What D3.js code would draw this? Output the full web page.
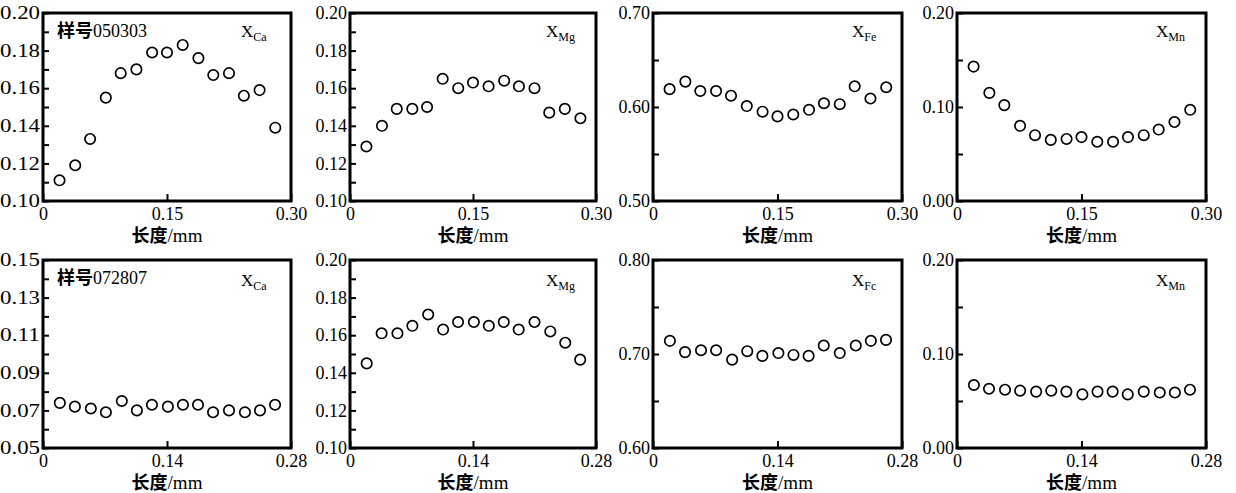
<!DOCTYPE html>
<html>
<meta charset="utf-8">
<head>
<style>
  body { margin: 0; background: #fff; }
  text { font-family: "Liberation Serif", "Times New Roman", serif; fill: #000; }
  .cjk { font-family: "Noto Sans CJK SC", sans-serif; font-weight: 700; }
</style>
</head>
<body>
<div id="chart"></div>
<script src="https://d3js.org/d3.v7.min.js"></script>
<script>
// positions along the profile (mm)
var xTop = [0.020, 0.039, 0.057, 0.076, 0.094, 0.113, 0.132, 0.150, 0.169, 0.188, 0.206, 0.225, 0.243, 0.262, 0.281];
var xBottom = [0.019, 0.036, 0.054, 0.071, 0.089, 0.106, 0.123, 0.141, 0.158, 0.175, 0.192, 0.210, 0.228, 0.245, 0.262];

// sample 050303
var caTop = [0.111, 0.119, 0.133, 0.155, 0.168, 0.170, 0.179, 0.179, 0.183, 0.176, 0.167, 0.168, 0.156, 0.159, 0.139];
var mgTop = [0.129, 0.140, 0.149, 0.149, 0.150, 0.165, 0.160, 0.163, 0.161, 0.164, 0.161, 0.160, 0.147, 0.149, 0.144];
var feTop = [0.619, 0.627, 0.617, 0.617, 0.612, 0.601, 0.595, 0.590, 0.592, 0.597, 0.604, 0.603, 0.622, 0.609, 0.621];
var mnTop = [0.143, 0.115, 0.102, 0.080, 0.070, 0.065, 0.066, 0.068, 0.063, 0.063, 0.068, 0.070, 0.076, 0.084, 0.097];

// sample 072807
var caBottom = [0.074, 0.072, 0.071, 0.069, 0.075, 0.070, 0.073, 0.072, 0.073, 0.073, 0.069, 0.070, 0.069, 0.070, 0.073];
var mgBottom = [0.145, 0.161, 0.161, 0.165, 0.171, 0.163, 0.167, 0.167, 0.165, 0.167, 0.163, 0.167, 0.162, 0.156, 0.147];
var feBottom = [0.714, 0.702, 0.704, 0.704, 0.694, 0.703, 0.698, 0.701, 0.699, 0.698, 0.709, 0.701, 0.709, 0.714, 0.715];
var mnBottom = [0.067, 0.063, 0.062, 0.061, 0.060, 0.061, 0.060, 0.057, 0.060, 0.060, 0.057, 0.060, 0.059, 0.059, 0.062];

// axis ticks and labels
var xLabelsTop = [0, 0.15, 0.30];
var xLabelsBottom = [0, 0.14, 0.28];
var ticksCa1 = [0.10, 0.11, 0.12, 0.13, 0.14, 0.15, 0.16, 0.17, 0.18, 0.19, 0.20];
var labelsCa1 = [0.10, 0.12, 0.14, 0.16, 0.18, 0.20];
var ticksMg = [0.10, 0.11, 0.12, 0.13, 0.14, 0.15, 0.16, 0.17, 0.18, 0.19, 0.20];
var labelsMg = [0.10, 0.12, 0.14, 0.16, 0.18, 0.20];
var ticksFe1 = [0.50, 0.55, 0.60, 0.65, 0.70];
var labelsFe1 = [0.50, 0.60, 0.70];
var ticksMn = [0.00, 0.05, 0.10, 0.15, 0.20];
var labelsMn = [0.00, 0.10, 0.20];
var ticksCa2 = [0.05, 0.06, 0.07, 0.08, 0.09, 0.10, 0.11, 0.12, 0.13, 0.14, 0.15];
var labelsCa2 = [0.05, 0.07, 0.09, 0.11, 0.13, 0.15];
var ticksFe2 = [0.60, 0.65, 0.70, 0.75, 0.80];
var labelsFe2 = [0.60, 0.70, 0.80];

var samples = ["样号050303", "样号072807"];

var panels = [
  {row: 0, col: 0, xs: xTop, ys: caTop, xl: xLabelsTop, yt: ticksCa1, yl: labelsCa1, sub: "Ca", sample: samples[0]},
  {row: 0, col: 1, xs: xTop, ys: mgTop, xl: xLabelsTop, yt: ticksMg, yl: labelsMg, sub: "Mg"},
  {row: 0, col: 2, xs: xTop, ys: feTop, xl: xLabelsTop, yt: ticksFe1, yl: labelsFe1, sub: "Fe"},
  {row: 0, col: 3, xs: xTop, ys: mnTop, xl: xLabelsTop, yt: ticksMn, yl: labelsMn, sub: "Mn"},
  {row: 1, col: 0, xs: xBottom, ys: caBottom, xl: xLabelsBottom, yt: ticksCa2, yl: labelsCa2, sub: "Ca", sample: samples[1]},
  {row: 1, col: 1, xs: xBottom, ys: mgBottom, xl: xLabelsBottom, yt: ticksMg, yl: labelsMg, sub: "Mg"},
  {row: 1, col: 2, xs: xBottom, ys: feBottom, xl: xLabelsBottom, yt: ticksFe2, yl: labelsFe2, sub: "Fc"},
  {row: 1, col: 3, xs: xBottom, ys: mnBottom, xl: xLabelsBottom, yt: ticksMn, yl: labelsMn, sub: "Mn"}
];

// layout
var colLeft = [43, 350, 653, 957];
var colWidth = [248, 246, 249, 249];
var rowTop = [13, 260];
var plotH = 188;

var svg = d3.select("#chart").append("svg")
  .attr("width", 1236)
  .attr("height", 493)
  .style("background", "#fff");

panels.forEach(function (p) {
  var w = colWidth[p.col];
  var g = svg.append("g")
    .attr("transform", "translate(" + colLeft[p.col] + "," + rowTop[p.row] + ")");

  var x = d3.scaleLinear().domain([0, p.xl[p.xl.length - 1]]).range([0, w]);
  var y = d3.scaleLinear().domain([p.yt[0], p.yt[p.yt.length - 1]]).range([plotH, 0]);

  // y axis, ticks pointing inward
  var yAxis = g.append("g").call(
    d3.axisLeft(y)
      .tickValues(p.yt)
      .tickSize(-6)
      .tickPadding(3)
      .tickFormat(function (d) {
        return p.yl.some(function (v) { return Math.abs(v - d) < 1e-9; }) ? d3.format(".2f")(d) : "";
      })
  );
  yAxis.select(".domain").remove();
  yAxis.selectAll("line").attr("stroke", "#000").attr("stroke-width", 2);
  yAxis.selectAll("text").attr("font-size", 18).style("font-family", "Liberation Serif");
  if (p.col === 0) {
    yAxis.selectAll("text").filter(function () { return this.textContent !== ""; })
      .attr("textLength", 40).attr("lengthAdjust", "spacingAndGlyphs");
  }

  // x axis, single inner tick at the middle
  var xAxis = g.append("g")
    .attr("transform", "translate(0," + plotH + ")")
    .call(
      d3.axisBottom(x)
        .tickValues(p.xl)
        .tickSize(-7)
        .tickPadding(6)
        .tickFormat(function (d) { return d === 0 ? "0" : d.toFixed(2); })
    );
  xAxis.select(".domain").remove();
  xAxis.selectAll("line").attr("stroke", "#000").attr("stroke-width", 2);
  xAxis.selectAll("text").attr("font-size", 18).style("font-family", "Liberation Serif");

  // frame
  g.append("rect")
    .attr("width", w)
    .attr("height", plotH)
    .attr("fill", "none")
    .attr("stroke", "#000")
    .attr("stroke-width", 3);

  // points
  g.selectAll("circle")
    .data(p.xs.map(function (v, i) { return [v, p.ys[i]]; }))
    .join("circle")
    .attr("cx", function (d) { return x(d[0]); })
    .attr("cy", function (d) { return y(d[1]); })
    .attr("r", 5.2)
    .attr("fill", "#fff")
    .attr("stroke", "#000")
    .attr("stroke-width", 1.7);

  // element label
  var lab = g.append("text")
    .attr("x", w - 50)
    .attr("y", p.row === 0 ? 24 : 26)
    .attr("font-size", 17);
  lab.append("tspan").text("X");
  lab.append("tspan").attr("font-size", 12).attr("dy", 4).text(p.sub);

  if (p.sample) {
    var s = g.append("text")
      .attr("x", 14)
      .attr("y", 24)
      .attr("font-size", 18);
    s.append("tspan").attr("class", "cjk").text(p.sample.slice(0, 2));
    s.append("tspan").text(p.sample.slice(2));
  }

  // x title
  var t = g.append("text")
    .attr("x", w / 2)
    .attr("y", plotH + 41)
    .attr("text-anchor", "middle")
    .attr("font-size", 18);
  t.append("tspan").attr("class", "cjk").text("长度");
  t.append("tspan").attr("font-size", 19).text("/mm");
});
</script>
</body>
</html>
